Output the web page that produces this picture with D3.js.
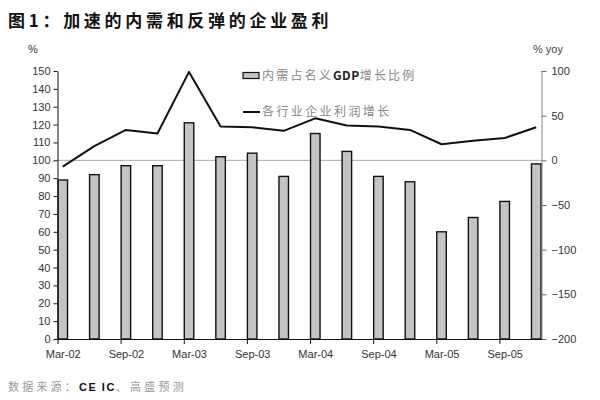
<!DOCTYPE html>
<html><head><meta charset="utf-8">
<script src="https://cdn.jsdelivr.net/npm/d3@7/dist/d3.min.js"></script>
<style>
body{margin:0;background:#fff;}
svg{font-family:"Liberation Sans",Arial,"Noto Sans CJK SC",sans-serif;}
</style></head><body>
<svg id="c" width="600" height="400"></svg>
<script>
const categories = ["Mar-02","Jun-02","Sep-02","Dec-02","Mar-03","Jun-03","Sep-03","Dec-03",
                    "Mar-04","Jun-04","Sep-04","Dec-04","Mar-05","Jun-05","Sep-05","Dec-05"];
const gdpShare = [89, 92, 97, 97, 121, 102, 104, 91, 115, 105, 91, 88, 60, 68, 77, 98];
const profitGrowth = [-7, 16, 34, 30, 99, 38, 37, 33, 47, 39, 38, 34, 18, 22, 25, 37];
const tickLabels = ["Mar-02","Sep-02","Mar-03","Sep-03","Mar-04","Sep-04","Mar-05","Sep-05"];
const leftTicks = [0,10,20,30,40,50,60,70,80,90,100,110,120,130,140,150];
const rightTicks = [-200,-150,-100,-50,0,50,100];

const svg = d3.select("#c");
const L = 57.5, R = 541.5, T = 71, B = 339;
const nMonths = categories.length * 3 - 2; // Mar-02 .. Dec-05 monthly slots
const x = d3.scaleLinear().domain([0, nMonths]).range([L, R]);
const mw = x(1) - x(0);
const yL = d3.scaleLinear().domain([0,150]).range([B, T]);
const yR = d3.scaleLinear().domain([-200,100]).range([B, T]);

// title
svg.append("text").attr("x",8).attr("y",27).attr("font-size",17).attr("font-weight","bold")
  .attr("letter-spacing",3.7).attr("fill","#111").attr("font-family","'Noto Sans CJK SC',sans-serif")
  .text("图1：加速的内需和反弹的企业盈利");

// unit labels
svg.append("text").attr("x",28).attr("y",53).attr("font-size",11).attr("fill","#333").text("%");
svg.append("text").attr("x",533).attr("y",53).attr("font-size",11).attr("fill","#444").text("% yoy");

// reference line (100 / 0)
svg.append("line").attr("x1",L).attr("x2",R).attr("y1",yL(100)).attr("y2",yL(100))
  .attr("stroke","#aaa").attr("stroke-width",1);

// bars
svg.append("g").selectAll("rect").data(gdpShare).join("rect")
  .attr("x",(d,i)=>x(i*3)+0.5).attr("width",mw-1)
  .attr("y",d=>yL(d)).attr("height",d=>B-yL(d))
  .attr("fill","#c4c4c4").attr("stroke","#111").attr("stroke-width",1.4);

// line
const line = d3.line().x((d,i)=>x(i*3+0.5)).y(d=>yR(d));
svg.append("path").datum(profitGrowth).attr("d",line).attr("fill","none")
  .attr("stroke","#111").attr("stroke-width",2).attr("stroke-linejoin","round");

// left axis
const gl = svg.append("g").attr("transform",`translate(${L},0)`)
  .call(d3.axisLeft(yL).tickValues(leftTicks).tickSize(4).tickSizeOuter(0).tickPadding(3));
gl.select(".domain").attr("stroke","#111");
gl.selectAll(".tick line").attr("stroke","#111");
gl.selectAll("text").attr("font-size",11).attr("fill","#333").attr("font-family","'Liberation Sans',Arial");

// right axis
const gr = svg.append("g").attr("transform",`translate(${R},0)`)
  .call(d3.axisRight(yR).tickValues(rightTicks).tickSize(5).tickSizeOuter(0).tickPadding(5));
gr.select(".domain").attr("stroke","#888");
gr.selectAll(".tick line").attr("stroke","#666");
gr.selectAll("text").attr("font-size",11).attr("fill","#333").attr("font-family","'Liberation Sans',Arial");

// bottom axis
const tickMonths = tickLabels.map((d,i)=>i*6);
const gb = svg.append("g").attr("transform",`translate(0,${B})`)
  .call(d3.axisBottom(x).tickValues(tickMonths).tickFormat((d,i)=>tickLabels[i])
    .tickSize(5).tickSizeOuter(0).tickPadding(6));
gb.select(".domain").attr("stroke","#111");
gb.selectAll(".tick line").attr("stroke","#111");
gb.selectAll("text").attr("x",mw/2).attr("font-size",11).attr("fill","#333")
  .attr("font-family","'Liberation Sans',Arial");

// legend
const lg = svg.append("g").attr("font-family","'Noto Sans CJK SC',sans-serif");
lg.append("rect").attr("x",243).attr("y",72.5).attr("width",16).attr("height",6)
  .attr("fill","#c4c4c4").attr("stroke","#111").attr("stroke-width",1.2);
const t1 = lg.append("text").attr("x",262).attr("y",80).attr("font-size",12).attr("fill","#888").attr("letter-spacing",2.2);
t1.append("tspan").text("内需占名义");
t1.append("tspan").attr("fill","#222").attr("font-weight","bold").attr("letter-spacing",0.5).text("GDP");
t1.append("tspan").text("增长比例");
lg.append("line").attr("x1",243).attr("x2",260).attr("y1",112).attr("y2",112).attr("stroke","#111").attr("stroke-width",2);
lg.append("text").attr("x",262).attr("y",116).attr("font-size",12).attr("fill","#888").attr("letter-spacing",2.4)
  .text("各行业企业利润增长");

// footer
const ft = svg.append("text").attr("x",8).attr("y",391).attr("font-size",11).attr("fill","#999")
  .attr("letter-spacing",3.2).attr("font-family","'Noto Sans CJK SC',sans-serif");
ft.append("tspan").text("数据来源：");
ft.append("tspan").attr("fill","#111").attr("font-weight","bold").attr("font-family","'Liberation Sans',Arial").attr("letter-spacing",1.5).text("CE IC");
ft.append("tspan").text("、高盛预测");
</script>
</body></html>
